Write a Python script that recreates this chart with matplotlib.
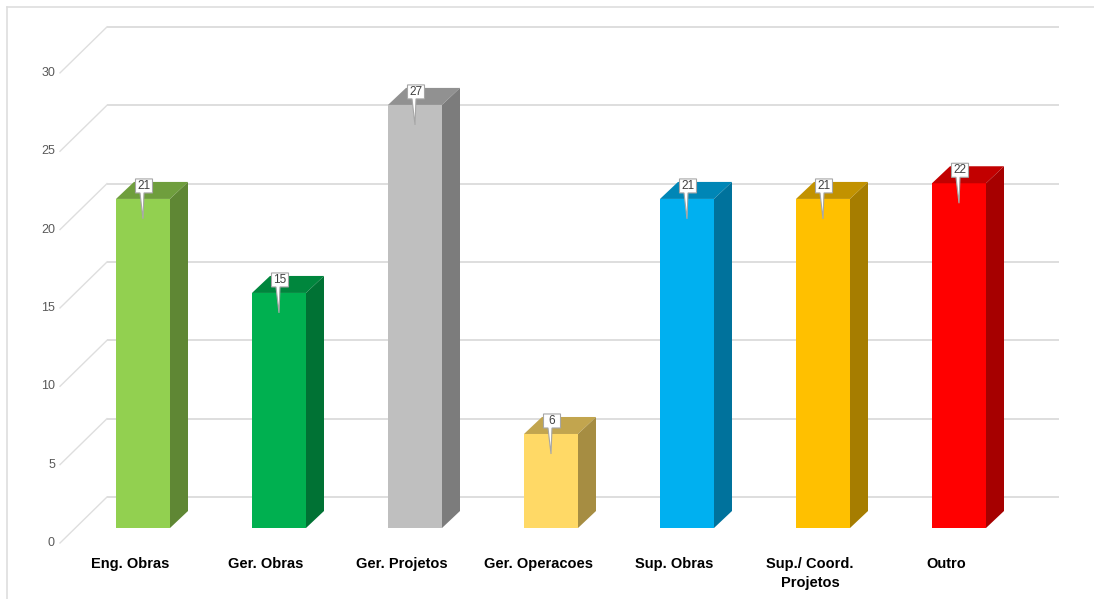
import matplotlib
matplotlib.use("Agg")
import matplotlib.pyplot as plt
from matplotlib.patches import Polygon
from matplotlib.lines import Line2D
from matplotlib.colors import to_rgb

# data
categories = ["Eng. Obras", "Ger. Obras", "Ger. Projetos", "Ger. Operacoes",
              "Sup. Obras", "Sup./ Coord.\nProjetos", "Outro"]
values = [21, 15, 27, 6, 21, 21, 22]
colors = ["#92d050", "#00b050", "#bfbfbf", "#ffd966", "#00b0f0", "#ffc000", "#ff0000"]
yticks = [0, 5, 10, 15, 20, 25, 30]

W, H = 1094, 599
# layout (pixels): bar front-face centre of first bar, spacing, baseline, px per unit
x0, step, base, unit = 143, 136, 528, 15.67
pxx = 1 / step
pxy = 1 / unit

narrow = ["Liberation Sans Narrow", "Liberation Sans", "DejaVu Sans"]

fig = plt.figure(figsize=(W / 100, H / 100), dpi=100)
ax = fig.add_axes([0, 0, 1, 1])
ax.set_xlim((0 - x0) / step, (W - x0) / step)
ax.set_ylim((base - H) / unit, base / unit)
ax.axis("off")

# 3D offsets in data units
bar_w = 54 * pxx
bdx, bdy = 18 * pxx, 17 * pxy          # bar depth
wall_dy = 31 * pxy                     # back wall above bar front plane
front_dy = -15 * pxy                   # front floor edge below bar front plane
wall_x0, wall_x1 = (107 - x0) * pxx, (1059 - x0) * pxx
front_x = (60 - x0) * pxx

grid_c = "#dedede"
for v in yticks:
    ax.plot([wall_x0, wall_x1], [v + wall_dy, v + wall_dy], color=grid_c, lw=1.4, zorder=1,
            solid_capstyle="butt")
    ax.plot([front_x, wall_x0], [v + front_dy, v + wall_dy], color=grid_c, lw=1.0, zorder=1)
    ax.text((55 - x0) * pxx, v + front_dy, str(v), ha="right", va="center",
            fontsize=9, color="#595959", family=narrow)


def shade(c, f):
    r, g, b = to_rgb(c)
    return (r * f, g * f, b * f)


xs = list(range(len(categories)))
ax.bar(xs, values, width=bar_w, color=colors, zorder=3)
for x, v, c in zip(xs, values, colors):
    xl, xr = x - bar_w / 2, x + bar_w / 2
    ax.add_patch(Polygon([(xl, v), (xr, v), (xr + bdx, v + bdy), (xl + bdx, v + bdy)],
                         closed=True, facecolor=shade(c, 0.76), edgecolor="none", zorder=3))
    ax.add_patch(Polygon([(xr, 0), (xr + bdx, bdy), (xr + bdx, v + bdy), (xr, v)],
                         closed=True, facecolor=shade(c, 0.65), edgecolor="none", zorder=3))

    # callout data label
    cx = x + 1 * pxx
    bw, bh = 17 * pxx, 14 * pxy
    by0 = v + 6 * pxy
    tip = (x, v - 20 * pxy)
    pts = [(cx - bw / 2, by0), (cx - 4 * pxx, by0), tip, (cx, by0),
           (cx + bw / 2, by0), (cx + bw / 2, by0 + bh), (cx - bw / 2, by0 + bh)]
    ax.add_patch(Polygon(pts, closed=True, facecolor="white", edgecolor="#a6a6a6",
                         lw=0.8, zorder=5))
    ax.text(cx, by0 + bh / 2, str(v), ha="center", va="center", fontsize=8.5,
            color="#404040", family=narrow, zorder=6)

for x, lab in zip(xs, categories):
    ax.text(x - 13 * pxx, (base - 557) * pxy, lab, ha="center", va="top",
            fontsize=10.5, fontweight="bold", color="black", family=narrow,
            linespacing=1.45)

# outer chart border (top and left)
fig.add_artist(Line2D([7 / W, 1], [1 - 7 / H, 1 - 7 / H], color=grid_c, lw=1.2))
fig.add_artist(Line2D([7 / W, 7 / W], [0, 1 - 7 / H], color=grid_c, lw=1.2))

fig.savefig("out.png", dpi=100)
